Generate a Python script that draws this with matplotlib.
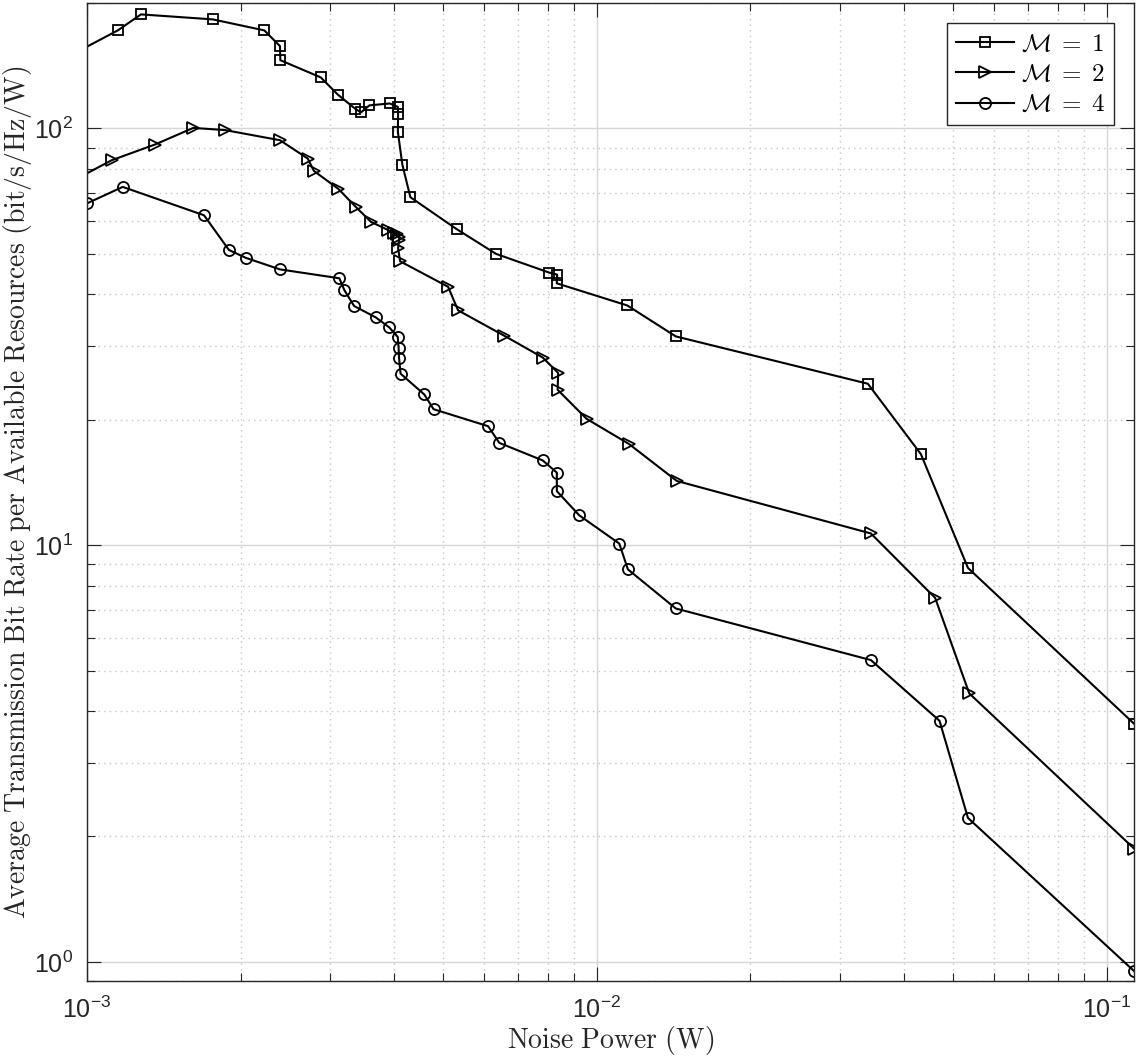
import matplotlib
matplotlib.use("Agg")
import matplotlib.pyplot as plt
from matplotlib.ticker import LogLocator, NullFormatter

plt.rcParams['font.family'] = ['Liberation Sans', 'DejaVu Sans']
plt.rcParams['mathtext.fontset'] = 'cm'

# ---- data ----
x_m1 = [0.95e-3, 1.149e-3, 1.276e-3, 1.764e-3, 2.227e-3, 2.390e-3, 2.394e-3, 2.873e-3,
        3.102e-3, 3.360e-3, 3.446e-3, 3.579e-3, 3.924e-3, 4.068e-3, 4.074e-3, 4.070e-3,
        4.153e-3, 4.306e-3, 5.311e-3, 6.342e-3, 8.056e-3, 8.354e-3, 8.341e-3, 1.147e-2,
        1.427e-2, 3.398e-2, 4.317e-2, 5.339e-2, 0.113]
y_m1 = [152.0, 171.9, 187.8, 182.7, 171.9, 157.6, 145.8, 132.6,
        120.6, 111.4, 109.3, 113.6, 114.8, 112.7, 108.6, 98.1,
        81.9, 68.4, 57.3, 50.0, 45.1, 44.6, 42.5, 37.6,
        31.7, 24.4, 16.54, 8.82, 3.73]

x_m2 = [0.95e-3, 1.118e-3, 1.359e-3, 1.616e-3, 1.865e-3, 2.390e-3, 2.709e-3, 2.785e-3,
        3.111e-3, 3.371e-3, 3.603e-3, 3.899e-3, 4.001e-3, 4.055e-3, 4.092e-3, 4.090e-3,
        4.074e-3, 4.111e-3, 5.106e-3, 5.342e-3, 6.584e-3, 7.830e-3, 8.392e-3, 8.373e-3,
        9.544e-3, 1.155e-2, 1.434e-2, 3.445e-2, 4.605e-2, 5.370e-2, 0.113]
y_m2 = [75.5, 83.9, 91.5, 100.3, 99.1, 93.7, 84.7, 79.1,
        71.6, 64.7, 59.7, 57.0, 56.2, 55.8, 55.0, 53.9,
        51.6, 48.0, 41.7, 36.6, 31.8, 28.2, 25.9, 23.6,
        20.1, 17.5, 14.26, 10.67, 7.47, 4.41, 1.871]

x_m4 = [1.0e-3, 1.175e-3, 1.696e-3, 1.898e-3, 2.050e-3, 2.390e-3, 3.125e-3, 3.197e-3,
        3.340e-3, 3.684e-3, 3.916e-3, 4.068e-3, 4.083e-3, 4.092e-3, 4.120e-3, 4.585e-3,
        4.782e-3, 6.116e-3, 6.435e-3, 7.830e-3, 8.343e-3, 8.343e-3, 9.226e-3, 1.106e-2,
        1.150e-2, 1.427e-2, 3.445e-2, 4.696e-2, 5.339e-2, 0.113]
y_m4 = [66.1, 72.4, 61.9, 51.1, 48.9, 45.9, 43.7, 40.9,
        37.5, 35.2, 33.3, 31.6, 29.8, 28.1, 25.8, 23.0,
        21.2, 19.3, 17.6, 15.97, 14.93, 13.48, 11.80, 10.09,
        8.75, 7.05, 5.30, 3.79, 2.216, 0.951]

labels = [r'$\mathcal{M}\;=\;1$', r'$\mathcal{M}\;=\;2$', r'$\mathcal{M}\;=\;4$']
xlabel = r'$\mathrm{Noise\ Power\ (W)}$'
ylabel = r'$\mathrm{Average\ Transmission\ Bit\ Rate\ per\ Available\ Resources\ (bit/s/Hz/W)}$'

fig = plt.figure(figsize=(11.46, 10.63), dpi=100)
ax = fig.add_axes([87/1146, 1 - 981/1063, (1134 - 87)/1146, (981 - 3)/1063])

common = dict(color='black', lw=1.5, mfc='none', mec='black', mew=1.3)
ax.plot(x_m1, y_m1, marker='s', ms=6.5, label=labels[0], **common)
ax.plot(x_m2, y_m2, marker='>', ms=8.5, label=labels[1], **common)
ax.plot(x_m4, y_m4, marker='o', ms=8, label=labels[2], **common)

ax.set_xscale('log')
ax.set_yscale('log')
ax.set_xlim(1e-3, 0.113)
ax.set_ylim(0.9, 200)

ax.xaxis.set_major_locator(LogLocator(base=10, numticks=10))
ax.yaxis.set_major_locator(LogLocator(base=10, numticks=10))
ax.xaxis.set_minor_locator(LogLocator(base=10, subs=range(2, 10), numticks=20))
ax.yaxis.set_minor_locator(LogLocator(base=10, subs=range(2, 10), numticks=20))
ax.xaxis.set_minor_formatter(NullFormatter())
ax.yaxis.set_minor_formatter(NullFormatter())

ax.grid(True, which='major', color='#d6d6d6', lw=1.0, ls='-')
ax.grid(True, which='minor', color='#c8c8c8', lw=1.0, ls=(0, (1, 3)))
ax.set_axisbelow(True)

ax.tick_params(which='both', direction='in', top=True, right=True, colors='#262626',
               labelsize=18, width=0.8)
ax.tick_params(axis='x', which='major', length=10, pad=11)
ax.tick_params(axis='y', which='major', length=10, pad=10)
ax.tick_params(which='minor', length=6)
for s in ax.spines.values():
    s.set_color('#262626')
    s.set_linewidth(1.0)

ax.set_xlabel(xlabel, fontsize=20, color='#262626', labelpad=1)
ax.set_ylabel(ylabel, fontsize=20, color='#262626', labelpad=0)

leg = ax.legend(loc='upper right', fontsize=18, fancybox=False, edgecolor='#262626',
                framealpha=1, handlelength=2.3, borderaxespad=0.8, labelspacing=0.25,
                handletextpad=0.3, borderpad=0.35)
leg.get_frame().set_linewidth(1.0)

fig.savefig('out.png', dpi=100)
